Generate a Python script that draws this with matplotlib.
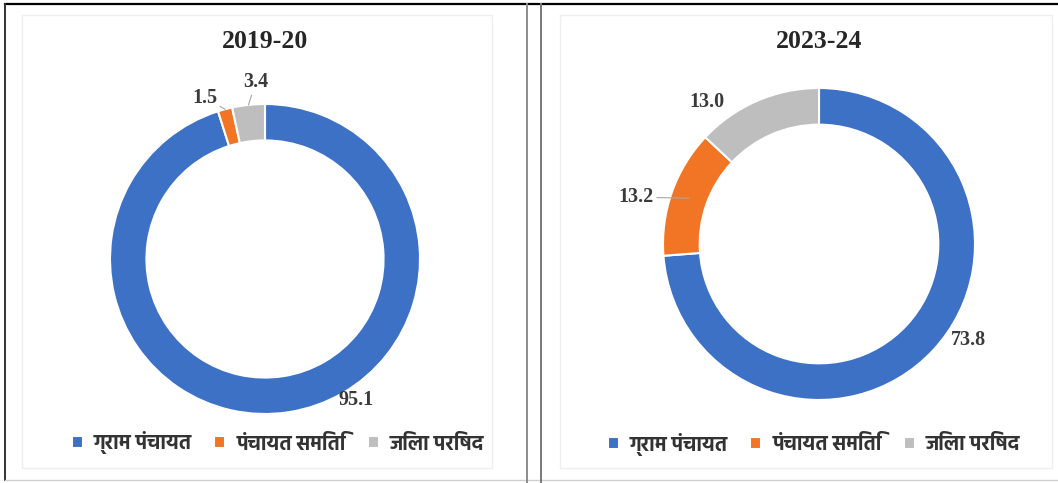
import numpy as np
import matplotlib
matplotlib.use("Agg")
import matplotlib.pyplot as plt
from matplotlib import font_manager as fm

# data
categories = ['ग्राम पंचायत', 'पंचायत समिति', 'जिला परिषद']
years = ['2019-20', '2023-24']
share_2019 = [95.1, 1.5, 3.4]
share_2023 = [73.8, 13.2, 13.0]

colors = ['#3D71C5', '#F27526', '#BEBEBE']

# pick a font that has devanagari glyphs and a real (static) bold face
bold_names = set()
names = set()
for f in fm.fontManager.ttflist:
    names.add(f.name)
    if isinstance(f.weight, int) and f.weight >= 700 and 'wght' not in f.fname:
        bold_names.add(f.name)
prefs = ['Noto Sans Devanagari', 'Noto Serif Devanagari', 'Hind', 'Mukta',
         'Biryani', 'Amiko', 'Arya']
dev_font = next((n for n in prefs if n in bold_names), None)
if dev_font is None:
    dev_font = next((n for n in prefs if n in names), 'DejaVu Sans')

W, H = 1058, 483
fig = plt.figure(figsize=(W / 100, H / 100), dpi=100)
fig.patch.set_facecolor('white')


def fx(x):
    return x / W


def fy(y):
    return 1 - y / H


def frame():
    # outer border + divider, as in the screenshot
    ov = fig.add_axes([0, 0, 1, 1], zorder=-5)
    ov.set_xlim(0, W)
    ov.set_ylim(H, 0)
    ov.axis('off')
    ov.plot([5, W], [4, 4], color='black', lw=1.6)
    ov.plot([5, 5], [4, 480], color='#333333', lw=1.4)
    ov.plot([5, W], [480, 480], color='#D0D0D0', lw=1.0)
    ov.plot([527, 527], [4, 483], color='#8C8C8C', lw=1.4)
    ov.plot([541, 541], [4, 483], color='#7A7A7A', lw=1.4)
    # faint chart-area borders
    for x0, x1 in [(22, 492), (560, 1052)]:
        ov.plot([x0, x1, x1, x0, x0], [15, 15, 468, 468, 15], color='#EFEFEF', lw=1.0)


def donut(values, title, cx, cy, r, label_pos, leaders, legend_cx, legend_y):
    ax = fig.add_axes([fx(cx - r), fy(cy + r), 2 * r / W, 2 * r / H])
    width = 0.235
    wedges, _ = ax.pie(values, colors=colors, startangle=90, counterclock=False,
                       radius=1, wedgeprops=dict(width=width, edgecolor='white', linewidth=1.5))
    ax.set_xlim(-1, 1)
    ax.set_ylim(-1, 1)
    ax.axis('off')

    for w, v, pos, lead in zip(wedges, values, label_pos, leaders):
        txt = f'{v:.1f}'
        kw = dict(ha='center', va='center', fontfamily='Liberation Serif',
                  fontweight='bold', fontsize=14.5, color='#3A3A3A')
        if lead is None:
            ax.text(pos[0], pos[1], txt, **kw)
        else:
            ang = np.deg2rad((w.theta1 + w.theta2) / 2)
            rr = 1 - width / 2 if lead == 'mid' else 1.0
            ax.annotate(txt, xy=(rr * np.cos(ang), rr * np.sin(ang)), xytext=pos,
                        arrowprops=dict(arrowstyle='-', color='#A6A6A6', lw=0.8,
                                        shrinkA=0, shrinkB=0),
                        annotation_clip=False, **kw)

    fig.text(fx(cx), fy(42), title, ha='center', va='center', fontfamily='Liberation Serif',
             fontweight='bold', fontsize=18.5, color='#262626')

    fig.legend(wedges, categories, loc='center', bbox_to_anchor=(fx(legend_cx), fy(legend_y)),
               ncol=3, frameon=False, handlelength=0.55, handleheight=0.55, handletextpad=0.55,
               columnspacing=1.1,
               prop=dict(family=[dev_font, 'DejaVu Sans'], weight='bold', size=14.5),
               labelcolor='#333333')


frame()
donut(share_2019, years[0], 265, 259, 155,
      [(0.59, -0.91), (-0.39, 1.04), (-0.06, 1.14)],
      [None, 'outer', 'outer'], 278, 443)
donut(share_2023, years[1], 819, 244, 156,
      [(0.955, -0.615), (-1.17, 0.30), (-0.72, 0.91)],
      [None, 'mid', None], 814, 444)

fig.savefig('out.png', dpi=100)
